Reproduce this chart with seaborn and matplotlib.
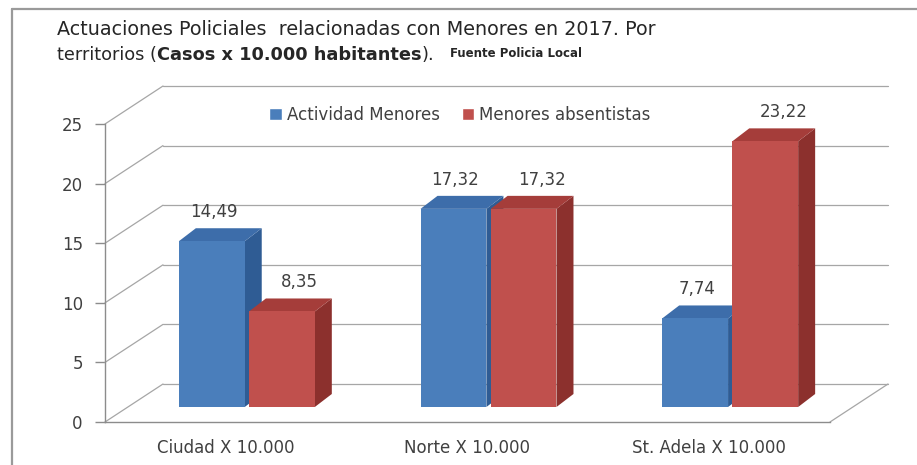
import pandas as pd
import matplotlib
matplotlib.use("Agg")
import matplotlib.pyplot as plt
from matplotlib.patches import Polygon
import seaborn as sns

# --- data ---
territorios = ["Ciudad X 10.000", "Norte X 10.000", "St. Adela X 10.000"]
series = ["Actividad Menores", "Menores absentistas"]
actividad_menores = [14.49, 17.32, 7.74]
menores_absentistas = [8.35, 17.32, 23.22]
y_ticks = [0, 5, 10, 15, 20, 25]

W, H, DPI = 917, 465, 100
TXT = "#404040"
AXIS_GREY = "#8C8C8C"
GRID_GREY = "#A6A6A6"
# front / side / top colours for each series (Excel 2007 style)
FRONT = ["#4A7EBB", "#C0504D"]
SIDE = ["#2F5C94", "#8C302D"]
TOP = ["#3D6DAA", "#A53D3A"]


def px(x0, y0, x1, y1):
    # pixel box measured from the top-left corner -> figure fraction rect
    return [x0 / W, 1 - y1 / H, (x1 - x0) / W, (y1 - y0) / H]


def depth(axis, dx_px, dy_px):
    # convert a pixel offset to data units of an axis
    p0 = axis.transData.transform((0, 0))
    return axis.transData.inverted().transform((p0[0] + dx_px, p0[1] + dy_px))


df = pd.DataFrame({
    "territorio": territorios * 2,
    "serie": [series[0]] * 3 + [series[1]] * 3,
    "valor": actividad_menores + menores_absentistas,
})

sns.set_style("white")
plt.rcParams["font.family"] = ["DejaVu Sans"]

fig = plt.figure(figsize=(W / DPI, H / DPI), dpi=DPI)

# chart frame (left and top edges visible in the screenshot)
fig.add_artist(plt.Line2D([12 / W, 12 / W], [0, 1 - 9 / H], transform=fig.transFigure,
                          color="#9A9A9A", lw=1.6))
fig.add_artist(plt.Line2D([12 / W, 1], [1 - 9 / H, 1 - 9 / H], transform=fig.transFigure,
                          color="#9A9A9A", lw=1.6))

# --- front plane: axis, ticks, walls and gridlines ---
ax = fig.add_axes(px(105, 124, 830, 422))
ax.set_facecolor("none")
ax.set_xlim(-0.5, 2.5)
ax.set_ylim(0, 25)
for s in ["top", "right"]:
    ax.spines[s].set_visible(False)
for s in ["left", "bottom"]:
    ax.spines[s].set_color(AXIS_GREY)
    ax.spines[s].set_linewidth(1.0)
ax.set_yticks(y_ticks)
ax.set_yticklabels([str(t) for t in y_ticks])
ax.set_xticks(range(len(territorios)))
ax.set_xticklabels(territorios)
ax.set_xticks([-0.5, 0.5, 1.5, 2.5], minor=True)
ax.tick_params(axis="x", which="major", length=0, pad=12, labelsize=12, labelcolor=TXT)
ax.tick_params(axis="x", which="minor", length=5, width=1, color=AXIS_GREY, direction="out")
ax.tick_params(axis="y", length=7, width=1, color=AXIS_GREY, pad=9, labelsize=12,
               labelcolor=TXT, direction="out", left=True)

gdx, gdy = depth(ax, 58, 38)
for v in y_ticks:
    ax.plot([-0.5, -0.5 + gdx], [v, v + gdy], color=GRID_GREY, lw=0.9, clip_on=False, zorder=1)
    ax.plot([-0.5 + gdx, 2.5 + gdx], [v + gdy, v + gdy], color=GRID_GREY, lw=0.9,
            clip_on=False, zorder=1)
# floor right edge
ax.plot([2.5, 2.5 + gdx], [0, gdy], color=GRID_GREY, lw=0.9, clip_on=False, zorder=1)

# --- bar plane (half way into the depth) ---
bx = fig.add_axes(px(126, 121, 851, 407))
sns.barplot(data=df, x="territorio", y="valor", hue="serie", palette=FRONT,
            width=0.58, gap=0.06, saturation=1, ax=bx)
bx.set_xlim(-0.5, 2.5)
bx.set_ylim(0, 25)
bx.axis("off")

bdx, bdy = depth(bx, 17, 13)
# seaborn also leaves empty legend proxies in ax.patches; keep only real bars
bars = sorted([p for p in bx.patches if p.get_height() > 0], key=lambda p: p.get_x())
for rank, bar in enumerate(bars):
    k = rank % 2
    x0, w, h = bar.get_x(), bar.get_width(), bar.get_height()
    x1 = x0 + w
    z = 2 + rank
    bar.set_zorder(z + 0.5)
    bar.set_edgecolor("none")
    side = Polygon([(x1, 0), (x1 + bdx, bdy), (x1 + bdx, h + bdy), (x1, h)],
                   closed=True, facecolor=SIDE[k], edgecolor="none", zorder=z)
    top = Polygon([(x0, h), (x0 + bdx, h + bdy), (x1 + bdx, h + bdy), (x1, h)],
                  closed=True, facecolor=TOP[k], edgecolor="none", zorder=z)
    bx.add_patch(side)
    bx.add_patch(top)
    bx.annotate(f"{h:.2f}".replace(".", ","), xy=(x0 + w / 2, h + bdy),
                xytext=([2, 18][k], 16), textcoords="offset pixels",
                ha="center", va="center", fontsize=12, color=TXT,
                annotation_clip=False, zorder=20)

sns.move_legend(bx, "center", bbox_to_anchor=(460 / W, 1 - 115 / H),
                bbox_transform=fig.transFigure, ncol=2, frameon=False, title=None,
                fontsize=12, handlelength=0.75, handleheight=0.75, handletextpad=0.3,
                columnspacing=1.3, labelcolor=TXT)

# --- title (mixed weights) ---
title_font = dict(family=["DejaVu Sans"], color="#262626")
fig.text(57 / W, 1 - 35 / H,
         "Actuaciones Policiales  relacionadas con Menores en 2017. Por",
         fontsize=13.8, va="baseline", **title_font)
t1 = fig.text(57 / W, 1 - 60 / H, "territorios (", fontsize=12.8, va="baseline", **title_font)
t2 = ax.annotate("Casos x 10.000 habitantes", xy=(1, 0), xycoords=t1, va="bottom",
                 ha="left", fontsize=12.8, fontweight="bold", annotation_clip=False,
                 **title_font)
t3 = ax.annotate(").", xy=(1, 0), xycoords=t2, va="bottom", ha="left", fontsize=12.8,
                 annotation_clip=False, **title_font)
ax.annotate("Fuente Policia Local", xy=(1, 0), xycoords=t3, xytext=(16, 4),
            textcoords="offset pixels", va="bottom", ha="left", fontsize=8.5,
            fontweight="bold", annotation_clip=False, **title_font)

fig.savefig("out.png", dpi=DPI, facecolor="white")
